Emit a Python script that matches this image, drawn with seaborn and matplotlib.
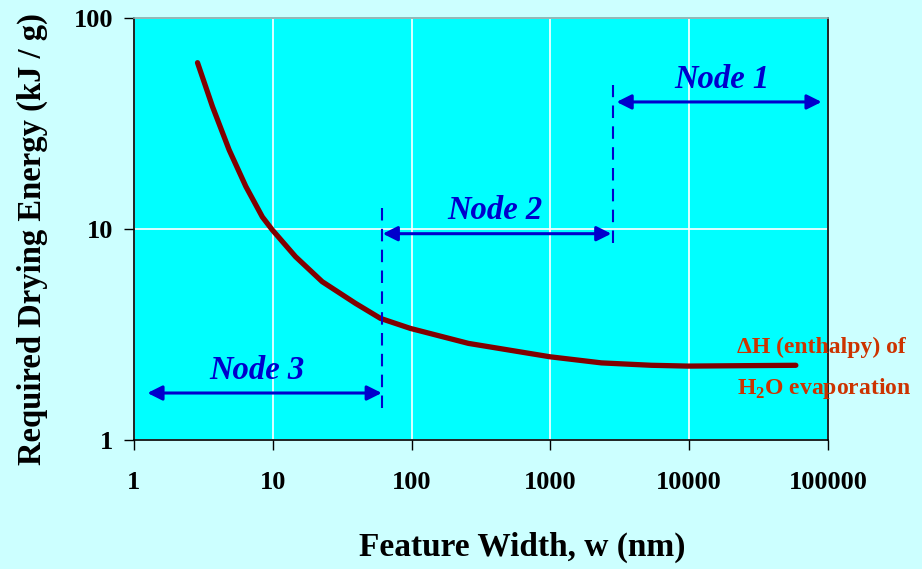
import numpy as np
import pandas as pd
import matplotlib
matplotlib.use("Agg")
import matplotlib.pyplot as plt
import seaborn as sns

# curve (feature width in nm, energy in kJ/g)
width_nm = [2.87, 3.68, 4.85, 6.4, 8.42, 9.94, 14.6, 22.7, 39.5, 59.7, 98,
            257, 993, 2333, 5333, 9790, 58700]
energy = [61.4, 38.0, 23.7, 15.9, 11.4, 9.89, 7.39, 5.63, 4.44, 3.77, 3.38,
          2.87, 2.48, 2.32, 2.26, 2.24, 2.26]

# node ranges (start, end) along width axis, and arrow heights
node_names = ["Node 1", "Node 2", "Node 3"]
node_ranges = [(3000, 90000), (62, 2750), (1.25, 61)]
node_arrow_y = [40, 9.5, 1.67]
node_label_pos = [(17200, 51), (400, 12.3), (7.7, 2.14)]

# dashed boundaries: x, y from, y to
bound_x = [61, 2820]
bound_y = [(1.42, 13.3), (8.6, 48)]

x_ticks = [1, 10, 100, 1000, 10000, 100000]
y_ticks = [1, 10, 100]

sns.set_style("whitegrid", {"axes.facecolor": "#00FFFF", "grid.color": "white",
                            "axes.edgecolor": "black", "text.color": "black",
                            "axes.labelcolor": "black"})
plt.rcParams['font.family'] = ['Liberation Serif', 'DejaVu Serif']
plt.rcParams['mathtext.fontset'] = 'custom'
plt.rcParams['mathtext.rm'] = 'Liberation Serif'
plt.rcParams['mathtext.bf'] = 'Liberation Serif:bold'

fig = plt.figure(figsize=(9.22, 5.69), dpi=100, facecolor="#CCFFFF")
ax = fig.add_axes([0.1453, 0.2267, 0.7527, 0.7417])

df = pd.DataFrame({"w": width_nm, "E": energy})
sns.lineplot(data=df, x="w", y="E", ax=ax, color="#800000", linewidth=3.8)

ax.set_xscale("log")
ax.set_yscale("log")
ax.set_xlim(1, 100000)
ax.set_ylim(1, 100)
ax.set_xticks(x_ticks)
ax.set_xticklabels([str(t) for t in x_ticks])
ax.set_yticks(y_ticks)
ax.set_yticklabels([str(t) for t in y_ticks])
ax.minorticks_off()
ax.grid(True, which="major", color="white", linewidth=1.2)
ax.tick_params(axis="x", which="major", direction="out", length=7, width=1,
               pad=15, labelsize=19, colors="black")
ax.tick_params(axis="y", which="major", direction="out", length=7, width=1,
               pad=8, labelsize=19, colors="black")
ax.tick_params(bottom=True, left=True)
for lab in ax.get_xticklabels() + ax.get_yticklabels():
    lab.set_fontweight("bold")
for s in ax.spines.values():
    s.set_linewidth(1.2)
    s.set_color("black")
ax.spines["top"].set_color("#88aaaa")

ax.set_xlabel("Feature Width, w (nm)", fontsize=24, fontweight="bold", color="black")
ax.xaxis.set_label_coords(0.56, -0.218)
ax.set_ylabel("Required Drying Energy (kJ / g)", fontsize=23.5, fontweight="bold",
              color="black")
ax.yaxis.set_label_coords(-0.124, 0.475)

blue = "#0000CC"
for bx, (y0, y1) in zip(bound_x, bound_y):
    ax.plot([bx, bx], [y0, y1], color=blue, linewidth=1.5, dashes=(6, 4))

for name, (x0, x1), ay, (lx, ly) in zip(node_names, node_ranges, node_arrow_y, node_label_pos):
    ax.annotate("", xy=(x1, ay), xytext=(x0, ay),
                arrowprops=dict(arrowstyle="<|-|>", color=blue, lw=2.2,
                                mutation_scale=22, shrinkA=0, shrinkB=0))
    ax.text(lx, ly, name, color=blue, fontsize=23.5, fontweight="bold",
            fontstyle="italic", ha="center", va="center")

orange = "#CC3300"
ax.text(22000, 2.76, "ΔH (enthalpy) of", color=orange, fontsize=17,
        fontweight="bold", ha="left", va="center", clip_on=False)
ax.text(22000, 1.76, r"H$_\mathbf{2}$O evaporation", color=orange, fontsize=17,
        fontweight="bold", ha="left", va="center", clip_on=False)

fig.savefig("out.png", dpi=100, facecolor=fig.get_facecolor())
